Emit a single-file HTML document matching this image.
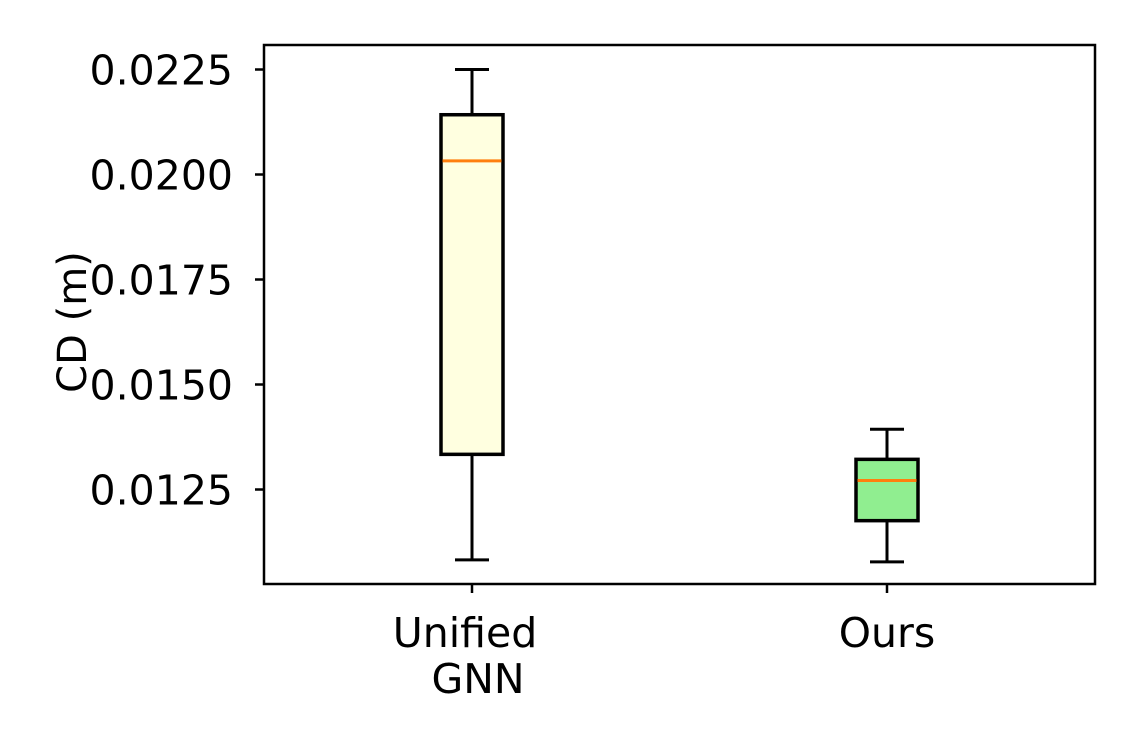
<!DOCTYPE html>
<html><head><meta charset="utf-8"><style>
body{margin:0;background:#fff;}
svg text{font-family:"DejaVu Sans","Liberation Sans",sans-serif;fill:#000;}
</style></head><body>
<svg id="chart" width="1140" height="750" viewBox="0 0 1140 750" xmlns="http://www.w3.org/2000/svg">
<rect x="0" y="0" width="1140" height="750" fill="#fff"/>
<g id="plot"></g>
<text x="86" y="322" font-size="40" text-anchor="middle" transform="rotate(-90 86 322)">CD (m)</text>
</svg>
<script>
const categories = [["Unified","GNN"],["Ours"]];
const whiskerLow = [0.010825, 0.010778];
const q1 = [0.013337, 0.011758];
const medians = [0.020323, 0.012715];
const q3 = [0.021423, 0.013218];
const whiskerHigh = [0.0225, 0.013935];
const fills = ["#ffffe0","#90ee90"];
const yTicks = [0.0125, 0.0150, 0.0175, 0.0200, 0.0225];
const yTickLabels = ["0.0125","0.0150","0.0175","0.0200","0.0225"];

const L=264,R=1095,T=45,B=584;
const y=v=>69.5+(0.0225-v)/0.0025*105;
const xc=[472,887];
const labelDx=[[-7,6],[0]];
const ns="http://www.w3.org/2000/svg";
const g=document.getElementById('plot');
function mk(t,a){const e=document.createElementNS(ns,t);for(const k in a)e.setAttribute(k,a[k]);g.appendChild(e);return e;}
yTicks.forEach((v,i)=>{
  const t=mk('line',{x1:L-9,x2:L,y1:y(v),y2:y(v),stroke:'#000','stroke-width':2.5});
  
  
  const tx=mk('text',{x:L-31,y:y(v)+15,'font-size':41,'text-anchor':'end'});
  tx.textContent=yTickLabels[i];
  
  
});
categories.forEach((c,i)=>{
  const x=xc[i],hw=31,cw=17;
  const gr=document.createElementNS(ns,'g');g.appendChild(gr);
  
  
  const add=(t,a)=>{const e=document.createElementNS(ns,t);for(const k in a)e.setAttribute(k,a[k]);gr.appendChild(e);return e;};
  add('line',{x1:x,x2:x,y1:y(whiskerHigh[i]),y2:y(q3[i]),stroke:'#000','stroke-width':3});
  add('line',{x1:x,x2:x,y1:y(q1[i]),y2:y(whiskerLow[i]),stroke:'#000','stroke-width':3});
  add('line',{x1:x-cw,x2:x+cw,y1:y(whiskerHigh[i]),y2:y(whiskerHigh[i]),stroke:'#000','stroke-width':3});
  add('line',{x1:x-cw,x2:x+cw,y1:y(whiskerLow[i]),y2:y(whiskerLow[i]),stroke:'#000','stroke-width':3});
  add('rect',{x:x-hw,y:y(q3[i]),width:2*hw,height:y(q1[i])-y(q3[i]),fill:fills[i],stroke:'#000','stroke-width':3.5});
  add('line',{x1:x-hw+1.5,x2:x+hw-1.5,y1:y(medians[i]),y2:y(medians[i]),stroke:'#ff7f0e','stroke-width':3});
  const t=mk('line',{x1:x,x2:x,y1:B,y2:B+9,stroke:'#000','stroke-width':2.5});
  
  
  c.forEach((s,j)=>{
    const tx=mk('text',{x:x+labelDx[i][j],y:647+j*46,'font-size':41,'text-anchor':'middle'});
    tx.textContent=s;
    
    
  });
});
const fr=mk('rect',{x:L,y:T,width:R-L,height:B-T,fill:'none',stroke:'#000','stroke-width':2.5});


</script>
</body></html>
